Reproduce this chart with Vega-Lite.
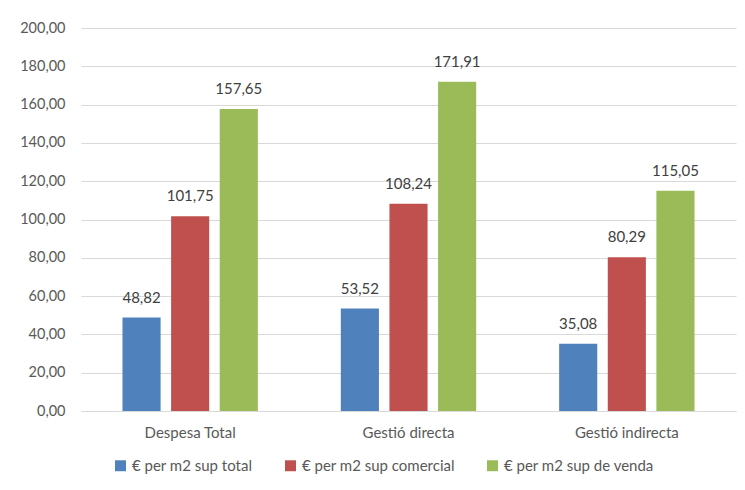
{
  "$schema": "https://vega.github.io/schema/vega-lite/v6.json",
  "width": 655,
  "height": 383,
  "padding": {"left": 81, "top": 28, "right": 9, "bottom": 79},
  "autosize": {"type": "none"},
  "background": "white",
  "config": {
    "locale": {"number": {"decimal": ",", "thousands": ".", "grouping": [3], "currency": ["", " €"]}},
    "view": {"stroke": null},
    "font": "Lato"
  },
  "data": {
    "values": [
      {"cat": "Despesa Total", "serie": "€ per m2 sup total", "val": 48.82},
      {"cat": "Despesa Total", "serie": "€ per m2 sup comercial", "val": 101.75},
      {"cat": "Despesa Total", "serie": "€ per m2 sup de venda", "val": 157.65},
      {"cat": "Gestió directa", "serie": "€ per m2 sup total", "val": 53.52},
      {"cat": "Gestió directa", "serie": "€ per m2 sup comercial", "val": 108.24},
      {"cat": "Gestió directa", "serie": "€ per m2 sup de venda", "val": 171.91},
      {"cat": "Gestió indirecta", "serie": "€ per m2 sup total", "val": 35.08},
      {"cat": "Gestió indirecta", "serie": "€ per m2 sup comercial", "val": 80.29},
      {"cat": "Gestió indirecta", "serie": "€ per m2 sup de venda", "val": 115.05}
    ]
  },
  "encoding": {
    "x": {
      "field": "cat", "type": "nominal", "sort": null,
      "scale": {"paddingInner": 0.38, "paddingOuter": 0.19},
      "axis": {"title": null, "labelAngle": 0, "ticks": false, "domain": true, "domainColor": "#d9d9d9", "labelColor": "#595959", "labelFontSize": 15, "labelPadding": 14, "labelFont": "Lato"}
    },
    "xOffset": {
      "field": "serie", "type": "nominal", "sort": null,
      "scale": {"paddingInner": 0.216, "paddingOuter": 0}
    },
    "y": {
      "field": "val", "type": "quantitative",
      "scale": {"domain": [0, 200], "nice": false},
      "axis": {"title": null, "values": [0,20,40,60,80,100,120,140,160,180,200], "labelOverlap": false, "format": ".2f", "domain": false, "ticks": false, "gridColor": "#d9d9d9", "labelColor": "#595959", "labelFontSize": 14.5, "labelPadding": 16, "labelFont": "Lato"}
    },
    "color": {
      "field": "serie", "type": "nominal", "sort": null,
      "scale": {"domain": ["€ per m2 sup total", "€ per m2 sup comercial", "€ per m2 sup de venda"], "range": ["#4F81BD", "#C0504D", "#9BBB59"]},
      "legend": {"title": null, "orient": "none", "legendX": 32, "legendY": 430, "direction": "horizontal", "symbolType": "square", "symbolSize": 120, "symbolStrokeWidth": 0, "labelFontSize": 15, "labelColor": "#595959", "labelFont": "Lato", "columnPadding": 30, "symbolOffset": 0}
    }
  },
  "layer": [
    {"mark": {"type": "bar"}},
    {
      "mark": {"type": "text", "dy": -20, "fontSize": 15, "color": "#404040", "font": "Lato"},
      "encoding": {"text": {"field": "val", "type": "quantitative", "format": ".2f"}, "color": {"value": "#404040"}}
    }
  ]
}
